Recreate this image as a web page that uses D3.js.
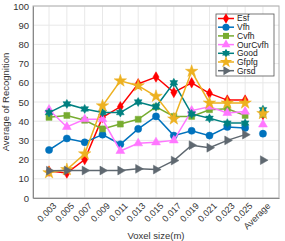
<!DOCTYPE html>
<html>
<head>
<meta charset="utf-8">
<style>
  body { margin: 0; background: #fff; }
  text { font-family: "Liberation Sans", Arial, sans-serif; }
</style>
</head>
<body>
<svg id="chart" width="285" height="241"></svg>
<script src="https://d3js.org/d3.v7.min.js"></script>
<script>
var categories = ["0.003","0.005","0.007","0.009","0.011","0.013","0.015","0.017","0.019","0.021","0.023","0.025","Average"];
var yTicks = [0,10,20,30,40,50,60,70,80,90,100];

var esf     = [14, 13, 20, 42, 47.5, 59.5, 63, 55, 60, 54.5, 51, 51, 43.5];
var vfh     = [25, 31, 29, 33, 28, 36, 42.5, 32.5, 35, 32.5, 37, 36.5, 33.5];
var cvfh    = [42, 43, 40.5, 36, 38.5, 41, 47.5, 42.5, 42.5, 46, 46.5, 43, 43.5];
var ourCvfh = [46, 37, 41, 41, 24.5, 28.5, 29, 30, 45.5, 47.5, 44.3, 45, 38.3];
var good    = [44.5, 49, 46.4, 44.5, 44.5, 50, 47.5, 60, 43.8, 41.5, 39, 39, 46];
var gfpfg   = [13.2, 14.8, 23, 48, 61, 58.5, 53, 41.2, 66, 49.5, 49.5, 49.5, 44];
var grsd    = [14.2, 14.3, 14.3, 14.3, 14.3, 15.2, 14.8, 19.5, 27.5, 26.2, 30, 33, 19.7];

var seriesNames = ["Esf","Vfh","Cvfh","OurCvfh","Good","Gfpfg","Grsd"];
var seriesValues = [esf, vfh, cvfh, ourCvfh, good, gfpfg, grsd];
var colors = ["#ff0000","#0072bd","#77ac30","#ff77ff","#008080","#edb120","#5f6870"];

// hexagram marker for "Good"
var hexagram = {
  draw: function(ctx, size) {
    var r = Math.sqrt(size / 2.6), ri = r * 0.577;
    for (var i = 0; i < 12; i++) {
      var a = -Math.PI / 2 + i * Math.PI / 6;
      var rr = i % 2 ? ri : r;
      if (i === 0) ctx.moveTo(rr * Math.cos(a), rr * Math.sin(a));
      else ctx.lineTo(rr * Math.cos(a), rr * Math.sin(a));
    }
    ctx.closePath();
  }
};
var symbols = [
  {type: d3.symbolDiamond, size: 32, rot: 0},
  {type: d3.symbolCircle, size: 40, rot: 0},
  {type: d3.symbolSquare, size: 36, rot: 0},
  {type: d3.symbolTriangle, size: 34, rot: 0},
  {type: hexagram, size: 52, rot: 0},
  {type: d3.symbolStar, size: 48, rot: 0},
  {type: d3.symbolTriangle, size: 34, rot: 90}
];

var margin = {top: 6, right: 6, bottom: 43, left: 33},
    width = 285 - margin.left - margin.right,
    height = 241 - margin.top - margin.bottom;

var svg = d3.select("#chart")
  .append("g")
    .attr("transform", "translate(" + margin.left + "," + margin.top + ")");

var x = d3.scalePoint().domain(categories).range([0, width]).padding(0.9);
var y = d3.scaleLinear().domain([0, 100]).range([height, 0]);

// grid
svg.append("g").selectAll("line.gx")
  .data(categories).enter().append("line")
    .attr("x1", function(d) { return x(d); }).attr("x2", function(d) { return x(d); })
    .attr("y1", 0).attr("y2", height)
    .style("stroke", "#e8e8e8").style("stroke-width", 1);
svg.append("g").selectAll("line.gy")
  .data(yTicks).enter().append("line")
    .attr("x1", 0).attr("x2", width)
    .attr("y1", function(d) { return y(d); }).attr("y2", function(d) { return y(d); })
    .style("stroke", "#e8e8e8").style("stroke-width", 1);

// box
svg.append("rect")
    .attr("width", width).attr("height", height)
    .style("fill", "none").style("stroke", "#b0b0b0").style("stroke-width", 1);

var xAxis = svg.append("g")
    .attr("transform", "translate(0," + height + ")")
    .call(d3.axisBottom(x).tickSize(0).tickPadding(0));
xAxis.select(".domain").style("stroke", "#888");
xAxis.selectAll("text")
    .style("font-size", "9px").style("fill", "#333")
    .attr("text-anchor", "end")
    .attr("dy", "0.7em")
    .attr("transform", "translate(3,4) rotate(-45)");

var yAxis = svg.append("g")
    .call(d3.axisLeft(y).tickValues(yTicks).tickSize(0).tickPadding(4));
yAxis.select(".domain").style("stroke", "#888");
yAxis.selectAll("text").style("font-size", "9.5px").style("fill", "#333");

svg.append("text")
    .attr("x", width / 2).attr("y", height + 41)
    .attr("text-anchor", "middle")
    .style("font-size", "9.5px").style("fill", "#333")
    .text("Voxel size(m)");

svg.append("text")
    .attr("transform", "rotate(-90)")
    .attr("x", -height / 2).attr("y", -24)
    .attr("text-anchor", "middle")
    .style("font-size", "9.5px").style("fill", "#333")
    .text("Average of Recognition");

var line = d3.line()
    .x(function(d, i) { return x(categories[i]); })
    .y(function(d) { return y(d); });

seriesValues.forEach(function(vals, s) {
  var g = svg.append("g");
  g.append("path")
      .datum(vals.slice(0, 12))
      .attr("d", line)
      .style("fill", "none")
      .style("stroke", colors[s])
      .style("stroke-width", 1.5);
  g.selectAll("path.m")
    .data(vals).enter().append("path")
      .attr("class", "m")
      .attr("d", d3.symbol().type(symbols[s].type).size(symbols[s].size))
      .attr("transform", function(d, i) {
        return "translate(" + x(categories[i]) + "," + y(d) + ") rotate(" + symbols[s].rot + ")";
      })
      .style("fill", colors[s])
      .style("stroke", colors[s])
      .style("stroke-width", 0.5);
});

// legend
var lg = svg.append("g").attr("transform", "translate(" + (216 - margin.left) + "," + (14 - margin.top) + ")");
lg.append("rect")
    .attr("width", 58).attr("height", 62)
    .style("fill", "#fff").style("stroke", "#555").style("stroke-width", 0.8);
var item = lg.selectAll("g.item")
  .data(seriesNames).enter().append("g")
    .attr("transform", function(d, i) { return "translate(0," + (4.5 + i * 8.7) + ")"; });
item.append("line")
    .attr("x1", 2).attr("x2", 18).attr("y1", 0).attr("y2", 0)
    .style("stroke", function(d, i) { return colors[i]; })
    .style("stroke-width", 1.5);
item.append("path")
    .attr("d", function(d, i) { return d3.symbol().type(symbols[i].type).size(symbols[i].size)(); })
    .attr("transform", function(d, i) { return "translate(10,0) rotate(" + symbols[i].rot + ")"; })
    .style("fill", function(d, i) { return colors[i]; });
item.append("text")
    .attr("x", 21).attr("dy", "0.35em")
    .style("font-size", "8.5px").style("fill", "#222")
    .text(function(d) { return d; });
</script>
</body>
</html>
